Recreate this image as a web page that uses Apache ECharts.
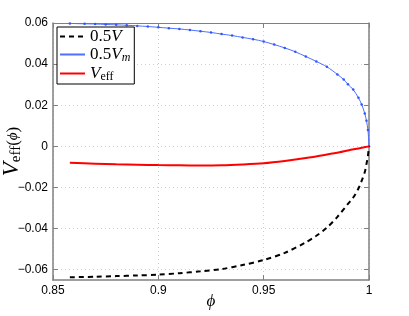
<!DOCTYPE html>
<html><head><meta charset="utf-8">
<script src="https://cdn.jsdelivr.net/npm/echarts@6/dist/echarts.min.js"></script>
<style>html,body{margin:0;padding:0;background:#fff}#c{width:409px;height:316px}</style>
</head><body><div id="c"></div>
<script>
const phiV = [0.858,0.87,0.88,0.89,0.90,0.91,0.92,0.93,0.94,0.95,0.96,0.97,0.975,0.98,0.985,0.99,0.9925,0.995,0.9965,0.998,0.9988,0.9995,1.0];
const halfV = [-0.0637,-0.0634,-0.0631,-0.0628,-0.0624,-0.0617,-0.0608,-0.0597,-0.0577,-0.0553,-0.0518,-0.0467,-0.0435,-0.0395,-0.0343,-0.0280,-0.0249,-0.0205,-0.0168,-0.0125,-0.0086,-0.0045,0];
const phiVm = [0.858,0.865,0.87,0.875,0.88,0.885,0.89,0.895,0.90,0.905,0.91,0.915,0.92,0.925,0.93,0.935,0.94,0.945,0.95,0.955,0.96,0.965,0.97,0.975,0.98,0.985,0.988,0.99,0.9925,0.995,0.9965,0.998,0.9988,0.9995,1.0];
const halfVm = [0.0598,0.0596,0.0595,0.0593,0.0591,0.0589,0.0586,0.0583,0.0579,0.0575,0.0571,0.0566,0.0560,0.0554,0.0546,0.0539,0.0530,0.0521,0.0510,0.0495,0.0479,0.0460,0.0437,0.0413,0.0387,0.0350,0.0325,0.0302,0.0276,0.0236,0.0204,0.0160,0.0124,0.0080,0];
const phiEff = [0.858,0.87,0.88,0.89,0.90,0.91,0.92,0.93,0.94,0.95,0.96,0.97,0.98,0.986,0.99,0.995,1.0];
const Veff = [-0.0080,-0.0084,-0.0087,-0.0089,-0.0091,-0.0092,-0.0093,-0.0092,-0.0088,-0.0082,-0.0071,-0.0057,-0.0040,-0.0029,-0.0020,-0.0010,0];
const yTicks = [-0.06,-0.04,-0.02,0,0.02,0.04,0.06];
const xTicks = [0.85,0.9,0.95,1];

const zip = (a,b)=>a.map((x,i)=>[x,b[i]]);
const fmtY = v => v===0?'0':(v<0?'\u2212':'')+Math.abs(v).toFixed(2);
const fmtX = v => (Math.round(v*100)/100).toString();
const grid = {left:53,right:40,top:23,bottom:36,outerBoundsMode:'none',containLabel:false};
const axisLineC = '#808080';
const splitL = {show:true,lineStyle:{color:'#d0d0d0',type:[1,3],width:1}};
const serif = 'Liberation Serif';
const chart = echarts.init(document.getElementById('c'));
chart.setOption({
  animation:false,
  grid,
  legend:{
    orient:'vertical', left:57, top:27, padding:[1,4,1,2], itemGap:1,
    itemWidth:25, itemHeight:14,
    backgroundColor:'#fff', borderColor:'#000', borderWidth:1, borderRadius:0,
    itemStyle:{opacity:0},
    data:['0.5V','0.5Vm','Veff'],
    formatter: n => n==='0.5V' ? '{n|0.5}{v|V}' : n==='0.5Vm' ? '{n|0.5}{v|V}{s|m}' : '{v|V}{e|eff}',
    textStyle:{color:'#000',fontFamily:serif,fontSize:17,
      rich:{n:{fontFamily:serif,fontSize:17,color:'#000'},
            v:{fontFamily:serif,fontSize:17,fontStyle:'italic',color:'#000'},
            s:{fontFamily:serif,fontSize:12,fontStyle:'italic',color:'#000',padding:[7,0,0,0]},
            e:{fontFamily:serif,fontSize:12,color:'#000',padding:[7,0,0,0]}}}
  },
  xAxis:[{
    type:'value', min:0.85, max:1, interval:0.05,
    name:'\u03D5', nameLocation:'middle', nameGap:13, nameMoveOverlap:false,
    nameTextStyle:{fontFamily:serif,fontStyle:'italic',fontSize:17,color:'#000'},
    axisLine:{onZero:false,lineStyle:{color:axisLineC,width:1.5}},
    axisTick:{inside:true,length:5,lineStyle:{color:axisLineC}},
    axisLabel:{color:'#000',fontFamily:'Liberation Sans',fontSize:12,margin:5,formatter:fmtX,
      customValues:xTicks},
    splitLine:splitL
  },{
    type:'value', min:0.85, max:1, interval:0.05, position:'top',
    axisLine:{onZero:false,lineStyle:{color:axisLineC,width:1}},
    axisTick:{inside:true,length:5,lineStyle:{color:axisLineC}},
    axisLabel:{show:false}, splitLine:{show:false}
  }],
  yAxis:[{
    type:'value', min:-0.065, max:0.06,
    name:'{v|V}{s|eff}{p|(}{f|\u03D5}{p|)}', nameLocation:'middle', nameRotate:90, nameGap:29, nameMoveOverlap:false,
    nameTextStyle:{color:'#000',
      rich:{v:{fontFamily:serif,fontSize:23,fontStyle:'italic',color:'#000'},
            s:{fontFamily:serif,fontSize:15,color:'#000',padding:[9,0,0,0]},
            p:{fontFamily:serif,fontSize:17,color:'#000',padding:[3,0,0,0]},
            f:{fontFamily:serif,fontSize:15,fontStyle:'italic',color:'#000',padding:[3,0,0,0]}}},
    axisLine:{show:true,onZero:false,lineStyle:{color:axisLineC,width:1.5}},
    axisTick:{show:true,inside:true,length:5,lineStyle:{color:axisLineC},customValues:yTicks},
    axisLabel:{color:'#000',fontFamily:'Liberation Sans',fontSize:12,margin:5,formatter:fmtY,customValues:yTicks},
    splitLine:splitL
  },{
    type:'value', min:-0.065, max:0.06, position:'right',
    axisLine:{show:true,onZero:false,lineStyle:{color:axisLineC,width:1.5}},
    axisTick:{show:true,inside:true,length:5,lineStyle:{color:axisLineC},customValues:yTicks},
    axisLabel:{show:false,customValues:yTicks}, splitLine:{show:false}
  }],
  series:[
    {name:'0.5V',type:'line',data:zip(phiV,halfV),symbol:'none',smooth:0.3,
     lineStyle:{color:'#000',width:2,type:[5,4]},itemStyle:{color:'#000'},z:3},
    {name:'0.5Vm',type:'line',data:zip(phiVm,halfVm),symbol:'circle',symbolSize:2.5,smooth:0.3,
     lineStyle:{color:'#4f6fff',width:1},itemStyle:{color:'#3355ff'},z:2},
    {name:'Veff',type:'line',data:zip(phiEff,Veff),symbol:'none',smooth:0.3,
     lineStyle:{color:'#ff0000',width:2},itemStyle:{color:'#ff0000'},z:4}
  ]
});
</script></body></html>
